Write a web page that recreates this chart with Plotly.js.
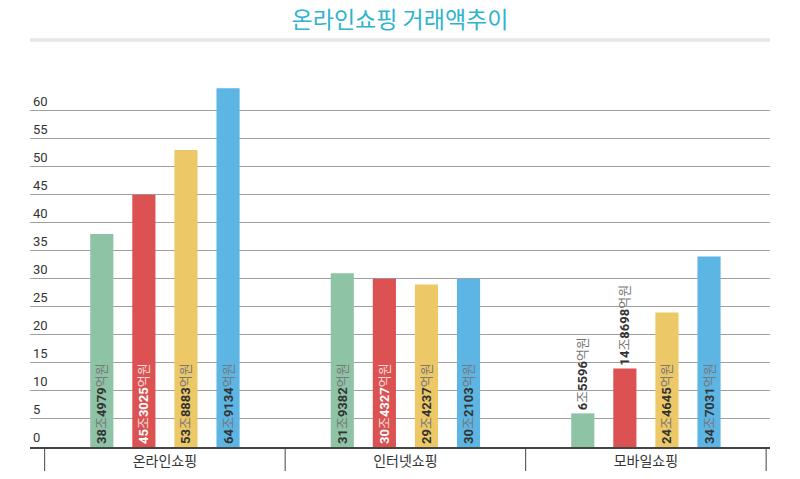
<!DOCTYPE html>
<html>
<head>
<meta charset="utf-8">
<script src="https://cdn.plot.ly/plotly-3.0.1.min.js"></script>
<style>html,body{margin:0;padding:0;background:#fff;}#chart{width:800px;height:479px;}</style>
</head>
<body>
<div id="chart"></div>
<script>
// ---- data ----
const categories = ["온라인쇼핑", "인터넷쇼핑", "모바일쇼핑"];
const seriesNames = ["계열1", "계열2", "계열3", "계열4"];
const series1 = [38, 31, 6];
const series2 = [45, 30, 14];
const series3 = [53, 29, 24];
const series4 = [64, 30, 34];
const labels1 = ["38조4979억원", "31조9382억원", "6조5596억원"];
const labels2 = ["45조3025억원", "30조4327억원", "14조8698억원"];
const labels3 = ["53조8883억원", "29조4237억원", "24조4645억원"];
const labels4 = ["64조9134억원", "30조2103억원", "34조7031억원"];
const yTicks = [0, 5, 10, 15, 20, 25, 30, 35, 40, 45, 50, 55, 60];

// ---- styles ----
const colors = ["#8ec3a6", "#dc5152", "#ecc867", "#5cb5e3"];
const FONT = "Roboto, 'Noto Sans CJK KR', sans-serif";

function fmt(label, numColor, unitColor) {
  return label.replace(/(\d+)|([^\d]+)/g, function (m, d, t) {
    if (d) return '<b><span style="color:' + numColor + '">' + d + '</span></b>';
    return '<span style="color:' + unitColor + '">' + t + '</span>';
  });
}

const allValues = [series1, series2, series3, series4];
const allLabels = [labels1, labels2, labels3, labels4];

const traces = allValues.map(function (vals, i) {
  const positions = vals.map(function (v) { return v < 15 ? "outside" : "inside"; });
  const texts = allLabels[i].map(function (lab, j) {
    const inside = positions[j] === "inside";
    if (inside && i === 1) return fmt(lab, "#ffffff", "rgba(255,255,255,0.8)");
    return fmt(lab, "#333333", "#777777");
  });
  return {
    type: "bar",
    name: seriesNames[i],
    x: categories,
    y: vals,
    text: texts,
    textposition: positions,
    insidetextanchor: "start",
    textangle: -90,
    constraintext: "none",
    cliponaxis: false,
    textfont: { family: FONT, size: 13 },
    marker: { color: colors[i], line: { width: 0 } },
    hoverinfo: "x+y"
  };
});

const shapes = [
  { type: "rect", xref: "paper", yref: "paper", x0: 0, x1: 1, y0: 1.095, y1: 1.105,
    fillcolor: "#e6e6e6", line: { width: 0 }, layer: "below" }
];
[-0.5, 0.5, 1.5, 2.5].forEach(function (b) {
  shapes.push({ type: "line", xref: "x", yref: "paper", x0: b, x1: b, y0: 0, y1: -0.065,
    line: { color: "#444", width: 1 } });
});

const layout = {
  width: 800, height: 479,
  margin: { l: 30, r: 30, t: 77, b: 32, pad: 0 },
  paper_bgcolor: "#fff", plot_bgcolor: "#fff",
  showlegend: false,
  barmode: "group",
  bargap: 0.30,
  bargroupgap: 0.45,
  title: {
    text: "온라인쇼핑 거래액추이",
    x: 0.5, xanchor: "center", xref: "paper",
    y: 0.959, yanchor: "middle", yref: "container",
    font: { family: "'Noto Sans CJK KR', sans-serif", size: 23, color: "#2eb4cd" }
  },
  xaxis: {
    type: "category",
    range: [-0.561, 2.516],
    showgrid: false, zeroline: false,
    showline: true, linecolor: "#444", linewidth: 2,
    ticks: "",
    tickfont: { family: "'Noto Sans CJK KR', sans-serif", size: 14, color: "#333" }
  },
  yaxis: {
    range: [0, 66],
    tickmode: "array",
    tickvals: yTicks,
    ticktext: yTicks.map(String),
    ticklabelposition: "inside top",
    showgrid: true, gridcolor: "#a0a0a0", gridwidth: 1,
    zeroline: false, showline: false, ticks: "",
    tickfont: { family: FONT, size: 13, color: "#333" }
  },
  shapes: shapes
};

Plotly.newPlot("chart", traces, layout, { displayModeBar: false, staticPlot: true });
</script>
</body>
</html>
